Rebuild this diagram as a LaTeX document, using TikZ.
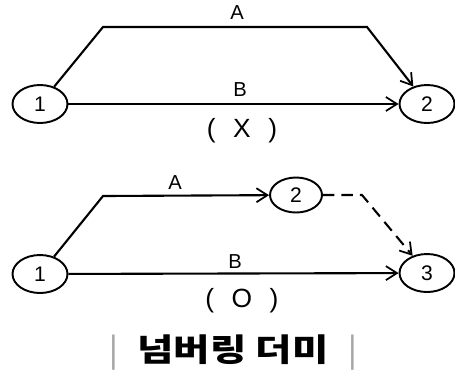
\documentclass[tikz,border=0pt]{standalone}
\usepackage{fontspec}
\setmainfont{Liberation Sans}
\newfontfamily\krfont{Noto Sans CJK KR}
\usetikzlibrary{arrows.meta, shapes.geometric}

\begin{document}
\begin{tikzpicture}[
    x=0.02cm, y=-0.02cm,
    evt/.style={draw, ellipse, line width=1.1pt, minimum width=1.1cm, minimum height=0.76cm, inner sep=0pt, font=\fontsize{12}{14}\selectfont},
    act/.style={line width=1.2pt, -{Straight Barb[length=2.2mm, width=2.8mm, line width=1pt]}},
    dummy/.style={act, dash pattern=on 2.3mm off 1.4mm},
    lbl/.style={font=\fontsize{11.5}{13}\selectfont},
    verdict/.style={font=\fontsize{15}{17}\selectfont},
]
    \useasboundingbox (0,0) rectangle (455,383);

    % 틀린 경우 (X)
    \node[evt] (t1) at (40,104) {1};
    \node[evt] (t2) at (427,104) {2};
    \coordinate (ta) at (103,27);
    \coordinate (tb) at (367,27);
    \draw[act] (t1) -- (ta) -- (tb) -- (t2);
    \draw[act] (t1) -- (t2);
    \node[lbl] (tA) at (237,13) {A};
    \node[lbl] (tB) at (240,90) {B};
    \node[verdict] (tx) at (242,131) {(\hspace{0.35cm}X\hspace{0.35cm})};

    % 맞는 경우 (O)
    \node[evt] (b1) at (40,274) {1};
    \node[evt, minimum width=1.04cm, minimum height=0.7cm] (b2) at (296,195) {2};
    \node[evt] (b3) at (427,273) {3};
    \coordinate (ba) at (103,196);
    \coordinate (bd) at (362,195);
    \draw[act] (b1) -- (ba) -- (b2);
    \draw[dummy] (b2) -- (bd) -- (b3);
    \draw[act] (b1) -- (b3);
    \node[lbl] (bA) at (175,183) {A};
    \node[lbl] (bB) at (235,262) {B};
    \node[verdict] (bo) at (242,301) {(\hspace{0.35cm}O\hspace{0.35cm})};

    % 제목
    \node[font=\krfont\bfseries\fontsize{18}{20}\selectfont] (ttl) at (233,353)
        {\scalebox{1.25}[1]{{\color{gray!70}\mdseries|}\hspace{0.3cm}넘버링 더미\hspace{0.3cm}{\color{gray!70}\mdseries|}}};
\end{tikzpicture}
\end{document}
